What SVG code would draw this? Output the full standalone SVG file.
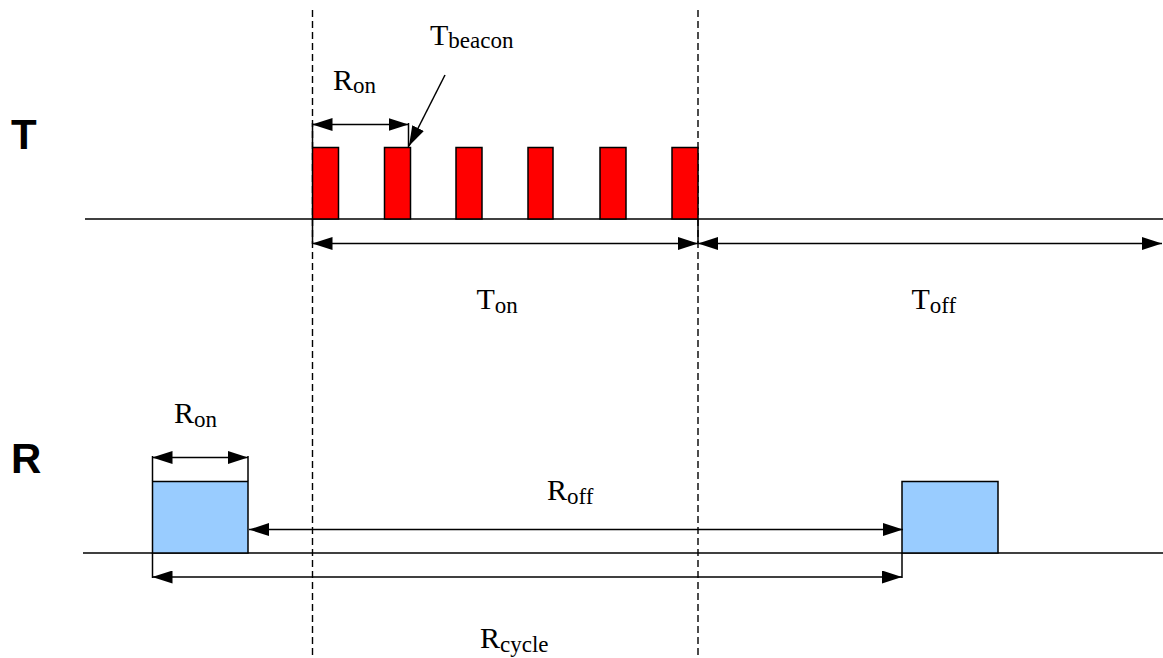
<svg xmlns="http://www.w3.org/2000/svg" width="1163" height="658" viewBox="0 0 1163 658">
<style>
.ln{stroke:#000;stroke-width:1.5;fill:none}
.dash{stroke:#000;stroke-width:1.4;fill:none;stroke-dasharray:7 4}
.dbl{stroke:#000;stroke-width:1.5;fill:none;marker-start:url(#ah);marker-end:url(#ah)}
.one{stroke:#000;stroke-width:1.5;fill:none;marker-end:url(#ah)}
.pulse{fill:#FF0000;stroke:#000;stroke-width:1.5}
.rx{fill:#99CCFF;stroke:#000;stroke-width:1.5}
.lbl{font-family:"Liberation Serif","Times New Roman",serif;font-size:30px;fill:#000}
.sub{font-size:23px}
.big{font-family:"Liberation Sans",Arial,sans-serif;font-size:42px;font-weight:bold;fill:#000}
</style>
<defs>
<marker id="ah" viewBox="0 0 20 13" refX="20" refY="6.5" markerWidth="20" markerHeight="13" markerUnits="userSpaceOnUse" orient="auto-start-reverse">
<path d="M0,0 L20,6.5 L0,13 Z" fill="#000"/>
</marker>
</defs>
<g id="baselines">
<line class="ln" x1="85" y1="219" x2="1163" y2="219"/>
<line class="ln" x1="83" y1="553" x2="1163" y2="553"/>
</g>
<g id="guides">
<line class="dash" x1="312.5" y1="10" x2="312.5" y2="658"/>
<line class="dash" x1="698" y1="10" x2="698" y2="658"/>
</g>
<g id="pulses">
<rect class="pulse" x="312.5" y="147.5" width="26" height="71.5"/>
<rect class="pulse" x="384.5" y="147.5" width="26" height="71.5"/>
<rect class="pulse" x="456" y="147.5" width="26" height="71.5"/>
<rect class="pulse" x="528" y="147.5" width="25" height="71.5"/>
<rect class="pulse" x="600" y="147.5" width="26" height="71.5"/>
<rect class="pulse" x="672" y="147.5" width="26" height="71.5"/>
</g>
<g id="rx1"><rect class="rx" x="152.5" y="481.5" width="95.5" height="71.5"/></g>
<g id="rx2"><rect class="rx" x="902" y="481.5" width="96" height="71.5"/></g>
<g id="connectors">
<line class="ln" x1="312.5" y1="123" x2="312.5" y2="147"/>
<line class="ln" x1="408.5" y1="123" x2="408.5" y2="147"/>
<line class="dbl" x1="312.5" y1="124.5" x2="408.5" y2="124.5"/>
<line class="one" x1="445" y1="75" x2="409" y2="146"/>
<line class="ln" x1="312.5" y1="219" x2="312.5" y2="244"/>
<line class="ln" x1="698" y1="219" x2="698" y2="244"/>
<line class="dbl" x1="312.5" y1="243.5" x2="698" y2="243.5"/>
<line class="dbl" x1="698" y1="243.5" x2="1162" y2="243.5"/>
<line class="ln" x1="152.5" y1="456" x2="152.5" y2="481"/>
<line class="ln" x1="248" y1="456" x2="248" y2="481"/>
<line class="dbl" x1="152.5" y1="457.5" x2="248" y2="457.5"/>
<line class="dbl" x1="249" y1="529.5" x2="903" y2="529.5"/>
<line class="ln" x1="152.5" y1="553" x2="152.5" y2="578"/>
<line class="ln" x1="902" y1="553" x2="902" y2="578"/>
<line class="dbl" x1="152.5" y1="577" x2="902" y2="577"/>
</g>
<g id="labels">
<text class="big" x="11" y="149">T</text>
<text class="big" x="11" y="473">R</text>
<text class="lbl" x="430" y="45">T<tspan class="sub" dy="3">beacon</tspan></text>
<text class="lbl" x="333" y="90">R<tspan class="sub" dy="3">on</tspan></text>
<text class="lbl" x="476.5" y="309">T<tspan class="sub" dy="4">on</tspan></text>
<text class="lbl" x="911.5" y="309">T<tspan class="sub" dy="4">off</tspan></text>
<text class="lbl" x="174" y="422.5">R<tspan class="sub" dy="4">on</tspan></text>
<text class="lbl" x="547" y="500">R<tspan class="sub" dy="4">off</tspan></text>
<text class="lbl" x="480" y="648">R<tspan class="sub" dy="4">cycle</tspan></text>
</g>
</svg>
